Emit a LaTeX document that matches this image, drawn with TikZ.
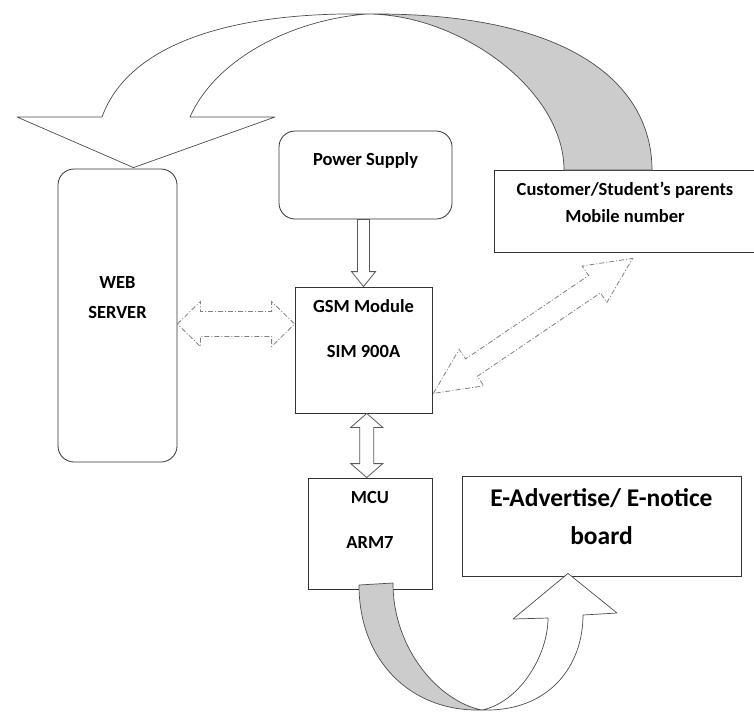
\documentclass[tikz,border=0pt]{standalone}
\usepackage{fontspec}
\setmainfont{Carlito}
\usetikzlibrary{calc,positioning}

% block arrow with a head at both ends: [style]{from}{to}{head length}{head half width}{shaft half width}
\newcommand{\twoheadblock}[6][]{%
  \draw[#1] (#2)
    -- ($($(#2)!#4!(#3)$)!#5!90:(#3)$)
    -- ($($(#2)!#4!(#3)$)!#6!90:(#3)$)
    -- ($($(#3)!#4!(#2)$)!#6!-90:(#2)$)
    -- ($($(#3)!#4!(#2)$)!#5!-90:(#2)$)
    -- (#3)
    -- ($($(#3)!#4!(#2)$)!#5!90:(#2)$)
    -- ($($(#3)!#4!(#2)$)!#6!90:(#2)$)
    -- ($($(#2)!#4!(#3)$)!#6!-90:(#3)$)
    -- ($($(#2)!#4!(#3)$)!#5!-90:(#3)$)
    -- cycle;}
% block arrow with one head
\newcommand{\oneheadblock}[6][]{%
  \draw[#1] ($(#2)!#6!90:(#3)$)
    -- ($($(#3)!#4!(#2)$)!#6!-90:(#2)$)
    -- ($($(#3)!#4!(#2)$)!#5!-90:(#2)$)
    -- (#3)
    -- ($($(#3)!#4!(#2)$)!#5!90:(#2)$)
    -- ($($(#3)!#4!(#2)$)!#6!90:(#2)$)
    -- ($(#2)!#6!-90:(#3)$)
    -- cycle;}

\begin{document}
\begin{tikzpicture}[
        x=1pt, y=-1pt,
        box/.style={draw=black!80, line width=0.8pt, fill=white, inner sep=0pt},
        roundbox/.style={box, rounded corners=16pt},
        txt/.style={font=\bfseries\fontsize{18.5}{#1}\selectfont, align=center, inner sep=0pt},
        txt/.default=22,
        ribbon/.style={draw=black!70, line width=0.7pt, line join=round},
        block/.style={draw=black!65, line width=0.8pt, fill=white},
        dashblock/.style={draw=black!50, line width=0.8pt, dash pattern=on 5pt off 2pt on 1pt off 2pt}
    ]
        \useasboundingbox (0,0) rectangle (754,713);

        % Blocks
        \node[roundbox, minimum width=119pt, minimum height=293pt] (web) at (117.5,315.5) {};
        \node[roundbox, minimum width=173pt, minimum height=88pt] (power) at (365.5,175) {};
        \node[box, minimum width=262pt, minimum height=82pt] (cust) at (625,211) {};
        \node[box, minimum width=137pt, minimum height=126pt] (gsm) at (363.5,350) {};
        \node[box, minimum width=124pt, minimum height=111pt] (mcu) at (370,533.5) {};
        \node[box, minimum width=279pt, minimum height=100pt] (board) at (601.5,526) {};

        % Block texts
        \node[txt=30] (webtext) at ($(web.north)+(0,129)$) {WEB\\SERVER};
        \node[txt] (powertext) at ($(power.north)+(0,30)$) {Power Supply};
        \node[txt=27] (custtext) at ($(cust.north)+(0,33)$) {Customer/Student’s parents\\Mobile number};
        \node[txt=45] (gsmtext) at ($(gsm.north)+(0,42)$) {GSM Module\\SIM 900A};
        \node[txt=45] (mcutext) at ($(mcu.north)+(0,42)$) {MCU\\ARM7};
        \node[txt=38, font=\bfseries\fontsize{25.5}{38}\selectfont] (boardtext) at ($(board.north)+(0,41)$) {E-Advertise/ E-notice\\board};

        % Connector ends
        \coordinate (pwrS) at (gsm.north |- power.south);
        \coordinate (gsmS) at ($(gsm.south)!0.5!(gsm.south -| mcu.north)$);
        \coordinate (mcuN) at (gsmS |- mcu.north);
        \coordinate (wsR) at ($(gsm.west)+(0,-26)$);
        \coordinate (wsL) at (web.east |- wsR);
        \coordinate (gsmD) at ($(gsm.south east)+(1,-20)$);
        \coordinate (custD) at ($(cust.south west)+(139,6)$);

        % Solid block arrows
        \oneheadblock[block]{pwrS}{gsm.north}{15pt}{12pt}{6pt}
        \twoheadblock[block]{gsmS}{mcuN}{14pt}{16pt}{7pt}

        % Wireless links
        \twoheadblock[dashblock]{wsL}{wsR}{23pt}{22.5pt}{12.5pt}
        \twoheadblock[dashblock]{gsmD}{custD}{46pt}{22pt}{10.5pt}

        % Top ribbon: mobile number -> web server
        \draw[ribbon, fill=gray!40] (367,14) .. controls (580,12) and (652,90) .. (652,170)
            -- (564,170) .. controls (564,90) and (460,14) .. (367,14) -- cycle;
        \draw[ribbon, fill=white] (190,117) -- (275,117) -- ($(web.north)+(16,-1)$) -- (17,117) -- (102,117)
            .. controls (130,40) and (240,12) .. (367,14)
            .. controls (290,20) and (215,60) .. (190,117) -- cycle;

        % Bottom ribbon: MCU -> notice board
        \draw[ribbon, fill=gray!40] (359,585) -- (393,583) .. controls (393,650) and (440,702) .. (482,710)
            .. controls (410,712) and (359,660) .. (359,585) -- cycle;
        \draw[ribbon, fill=white] (482,710) .. controls (520,702) and (548,655) .. (548,618)
            -- (513,619) -- ($(board.south)+(-33.5,-3)$) -- (617,613) -- (583,615)
            .. controls (583,665) and (550,712) .. (482,710) -- cycle;
    \end{tikzpicture}
\end{document}
